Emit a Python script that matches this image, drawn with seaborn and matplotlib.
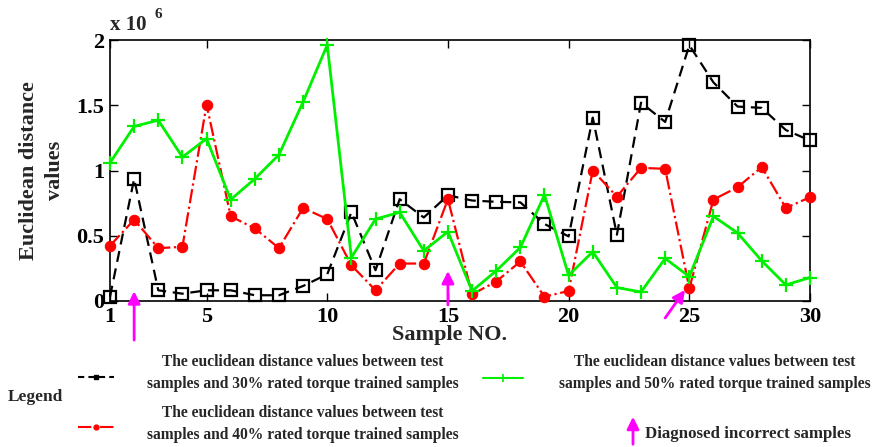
import numpy as np
import pandas as pd
import matplotlib
matplotlib.use("Agg")
import matplotlib.pyplot as plt
from matplotlib.lines import Line2D
from matplotlib.patches import FancyArrowPatch
import seaborn as sns

# ---------------- data ----------------
samples = list(range(1, 31))
d30 = [0.033, 0.936, 0.082, 0.056, 0.082, 0.082, 0.044, 0.044, 0.115, 0.205,
       0.68, 0.236, 0.78, 0.64, 0.81, 0.77, 0.76, 0.756, 0.59, 0.495,
       1.405, 0.508, 1.52, 1.372, 1.96, 1.675, 1.49, 1.48, 1.31, 1.23]
d40 = [0.423, 0.623, 0.405, 0.415, 1.505, 0.649, 0.556, 0.405, 0.713, 0.628,
       0.274, 0.082, 0.287, 0.287, 0.78, 0.051, 0.149, 0.303, 0.033, 0.077,
       1.0, 0.8, 1.02, 1.013, 0.097, 0.777, 0.872, 1.026, 0.713, 0.795]
d50 = [1.059, 1.338, 1.385, 1.103, 1.244, 0.777, 0.936, 1.121, 1.526, 1.962,
       0.333, 0.628, 0.679, 0.385, 0.531, 0.077, 0.231, 0.41, 0.813, 0.197,
       0.377, 0.103, 0.069, 0.326, 0.187, 0.649, 0.521, 0.308, 0.123, 0.18]
scale = 1e6
xticks = [1, 5, 10, 15, 20, 25, 30]
yticks = [0, 0.5, 1, 1.5, 2]
ytick_labels = ["0", "0.5", "1", "1.5", "2"]
incorrect_samples = [2, 15, 25]

labels = ["The euclidean distance values between test\nsamples and 30% rated torque trained samples",
          "The euclidean distance values between test\nsamples and 50% rated torque trained samples",
          "The euclidean distance values between test\nsamples and 40% rated torque trained samples",
          "Diagnosed incorrect samples"]

df = pd.DataFrame({"sample": samples,
                   "d30": np.array(d30) * scale,
                   "d40": np.array(d40) * scale,
                   "d50": np.array(d50) * scale})

# ---------------- style ----------------
sns.set_style("ticks")
plt.rcParams["font.family"] = ["Liberation Serif", "DejaVu Serif"]
plt.rcParams["font.weight"] = "bold"
plt.rcParams["axes.labelweight"] = "bold"

W, H = 879, 447
fig = plt.figure(figsize=(W / 100, H / 100), dpi=100)
ax = fig.add_axes([110 / W, 1 - 301 / H, 700 / W, 261 / H])

BLACK, RED, GREEN, MAG = "#000000", "#ff0000", "#00f000", "#ff00ff"

sns.lineplot(data=df, x="sample", y="d30", ax=ax, color=BLACK, lw=1.6,
             marker="s", markersize=8, markerfacecolor="none",
             markeredgecolor=BLACK, markeredgewidth=1.6, dashes=False,
             clip_on=False, zorder=3)
ax.lines[-1].set_dashes([5, 3])
sns.lineplot(data=df, x="sample", y="d40", ax=ax, color=RED, lw=1.6,
             marker="o", markersize=7.5, markerfacecolor=RED,
             markeredgecolor=RED, dashes=False, clip_on=False, zorder=3)
ax.lines[-1].set_linestyle("-.")
sns.lineplot(data=df, x="sample", y="d50", ax=ax, color=GREEN, lw=2.0,
             marker="+", markersize=10, markeredgewidth=1.6,
             markeredgecolor=GREEN, dashes=False, clip_on=False, zorder=3)

# arrows marking incorrectly diagnosed samples
arrow_kw = dict(arrowstyle="-|>", color=MAG, lw=2, mutation_scale=18,
                shrinkA=0, shrinkB=0)
ax.annotate("", xy=(incorrect_samples[0], 0.075 * scale),
            xytext=(incorrect_samples[0], -0.30 * scale),
            arrowprops=arrow_kw, annotation_clip=False)
ax.annotate("", xy=(incorrect_samples[1], 0.23 * scale),
            xytext=(incorrect_samples[1], -0.03 * scale),
            arrowprops=arrow_kw, annotation_clip=False)
ax.annotate("", xy=(incorrect_samples[2] - 0.18, 0.085 * scale),
            xytext=(incorrect_samples[2] - 1.0, -0.13 * scale),
            arrowprops=arrow_kw, annotation_clip=False)

ax.set_xlim(1, 30)
ax.set_ylim(0, 2 * scale)
ax.set_xticks(xticks)
ax.set_xticklabels([str(v) for v in xticks])
ax.set_yticks([v * scale for v in yticks])
ax.set_yticklabels(ytick_labels)
ax.tick_params(direction="in", length=6, width=1, top=True, right=True,
               labelsize=16, pad=4, colors="black")
for lab in ax.get_xticklabels() + ax.get_yticklabels():
    lab.set_fontweight("bold")
for s in ax.spines.values():
    s.set_visible(True)
    s.set_linewidth(1.2)
    s.set_color("black")

ax.set_xlabel("Sample NO.", fontsize=16, fontweight="bold")
ax.xaxis.set_label_coords((450 - 110) / 700, -(335 - 301) / 261,
                          transform=ax.transAxes)
ax.xaxis.label.set_va("center")
ax.set_ylabel("Euclidean distance\nvalues", fontsize=16, fontweight="bold",
              labelpad=8, linespacing=1.45)

fig.text(110 / W, 1 - 25 / H, "x 10", fontsize=15, fontweight="bold",
         ha="left", va="center")
fig.text(155 / W, 1 - 15 / H, "6", fontsize=11, fontweight="bold",
         ha="left", va="center")

# ---------------- legend (drawn below the axes) ----------------
def fx(px):
    return px / W

def fy(py):
    return 1 - py / H

LFS = 11.2
fig.text(fx(35), fy(397), "Legend", fontsize=12.5, fontweight="bold",
         ha="center", va="center")

fig.add_artist(Line2D([fx(78), fx(114)], [fy(377), fy(377)], color=BLACK,
                      lw=1.5, dashes=[3, 2], transform=fig.transFigure))
fig.add_artist(Line2D([fx(96)], [fy(377)], color=BLACK, marker="s",
                      markersize=3.5, transform=fig.transFigure))
fig.text(fx(303), fy(373), labels[0], fontsize=LFS, fontweight="bold",
         ha="center", va="center", multialignment="center", linespacing=1.5)

fig.add_artist(Line2D([fx(483), fx(523)], [fy(378), fy(378)], color=GREEN,
                      lw=1.5, transform=fig.transFigure))
fig.add_artist(Line2D([fx(503)], [fy(378)], color=GREEN, marker="+",
                      markersize=6, markeredgewidth=1.2,
                      transform=fig.transFigure))
fig.text(fx(715), fy(373), labels[1], fontsize=LFS, fontweight="bold",
         ha="center", va="center", multialignment="center", linespacing=1.5)

fig.add_artist(Line2D([fx(78), fx(114)], [fy(427), fy(427)], color=RED,
                      lw=1.5, linestyle="-.", transform=fig.transFigure))
fig.add_artist(Line2D([fx(96)], [fy(427)], color=RED, marker="o",
                      markersize=3.5, transform=fig.transFigure))
fig.text(fx(303), fy(424), labels[2], fontsize=LFS, fontweight="bold",
         ha="center", va="center", multialignment="center", linespacing=1.5)

fig.add_artist(FancyArrowPatch(
    (fx(633), fy(447)), (fx(633), fy(414)), transform=fig.transFigure,
    arrowstyle="-|>", color=MAG, lw=2, mutation_scale=18))
fig.text(fx(645), fy(434), labels[3], fontsize=12.2, fontweight="bold",
         ha="left", va="center")

fig.savefig("out.png", dpi=100)
